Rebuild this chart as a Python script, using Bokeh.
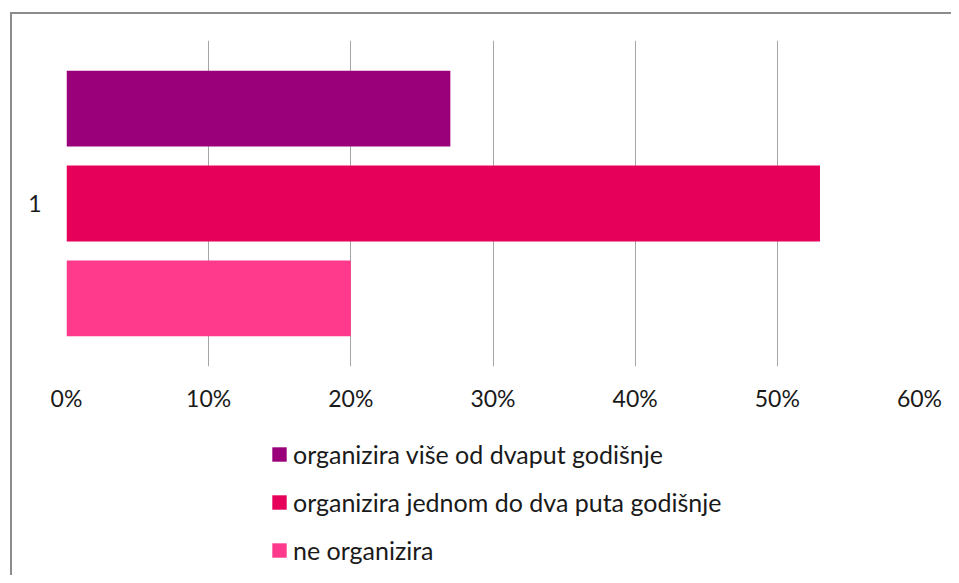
from bokeh.plotting import figure
from bokeh.models import (FactorRange, NumeralTickFormatter, Legend, LegendItem,
                          FixedTicker, Spacer, Div)
from bokeh.layouts import row, column
from bokeh.transform import dodge
from bokeh.embed import file_html
from bokeh.resources import INLINE

categories = ["1"]
series = ["organizira više od dvaput godišnje",
          "organizira jednom do dva puta godišnje",
          "ne organizira"]
values = [0.27, 0.53, 0.20]
colors = ["#99007a", "#e6005a", "#ff3a8c"]
offsets = [0.291, 0.0, -0.291]
x_ticks = [0, 0.1, 0.2, 0.3, 0.4, 0.5, 0.6]

FONT = "Lato"
FS = "23px"
BORDER = "#8c8c8c"
TXT = "#1a1a1a"

# ---- chart -------------------------------------------------------------
p = figure(width=939, height=411, output_backend="svg", toolbar_location=None,
           y_range=FactorRange(*categories), x_range=(0, 0.6),
           min_border_left=54, min_border_right=32, min_border_top=26,
           min_border_bottom=59)
p.outline_line_color = None

for name, v, c, off in zip(series, values, colors, offsets):
    p.hbar(y=dodge("cat", off, range=p.y_range), right="val", left=0,
           height=0.233, color=c, line_color=None,
           source=dict(cat=categories, val=[v]))

p.xaxis.ticker = FixedTicker(ticks=x_ticks)
p.xaxis.formatter = NumeralTickFormatter(format="0%")
p.xaxis.axis_line_color = None
p.xaxis.major_tick_line_color = None
p.xaxis.minor_tick_line_color = None
p.xaxis.major_label_standoff = 11
p.xaxis.major_label_text_font = FONT
p.xaxis.major_label_text_font_size = FS
p.xaxis.major_label_text_color = TXT

p.yaxis.axis_line_color = None
p.yaxis.major_tick_line_color = None
p.yaxis.major_label_standoff = 19
p.yaxis.major_label_text_font = FONT
p.yaxis.major_label_text_font_size = FS
p.yaxis.major_label_text_color = TXT

p.xgrid.grid_line_color = "#a6a6a6"
p.xgrid.grid_line_width = 1
p.ygrid.grid_line_color = None

# ---- legend panel (swatch renderers sit outside the visible range) -------
lf = figure(width=939, height=150, output_backend="svg", toolbar_location=None,
            x_axis_type=None, y_axis_type=None, x_range=(0, 1), y_range=(0, 1),
            min_border=0)
lf.outline_line_color = None
lf.grid.visible = False
items = []
for name, c in zip(series, colors):
    r = lf.hbar(y=[-10], right=[0.1], left=0, height=0.1, color=c, line_color=None)
    items.append(LegendItem(label=name, renderers=[r]))

legend = Legend(items=items, location=(204, 10), orientation="vertical",
                glyph_width=18, glyph_height=18, label_standoff=5,
                spacing=18, padding=0, margin=0,
                label_text_font=FONT, label_text_font_size="25px",
                label_text_color=TXT, label_height=22,
                border_line_color=None, background_fill_alpha=0)
lf.add_layout(legend, "center")

# ---- border lines (top and left of the chart area) -----------------------
left_line = Div(text="", width=2, height=561, margin=0,
                styles={"background-color": BORDER, "padding": "0"})
top_line = Div(text="", width=941, height=2, margin=0,
               styles={"background-color": BORDER, "padding": "0"})

layout = column(
    Spacer(width=951, height=12),
    row(Spacer(width=10, height=2), top_line, spacing=0),
    row(Spacer(width=10, height=561), left_line, column(p, lf, spacing=0), spacing=0),
    spacing=0)

open("out.html", "w").write(file_html(layout, INLINE))
